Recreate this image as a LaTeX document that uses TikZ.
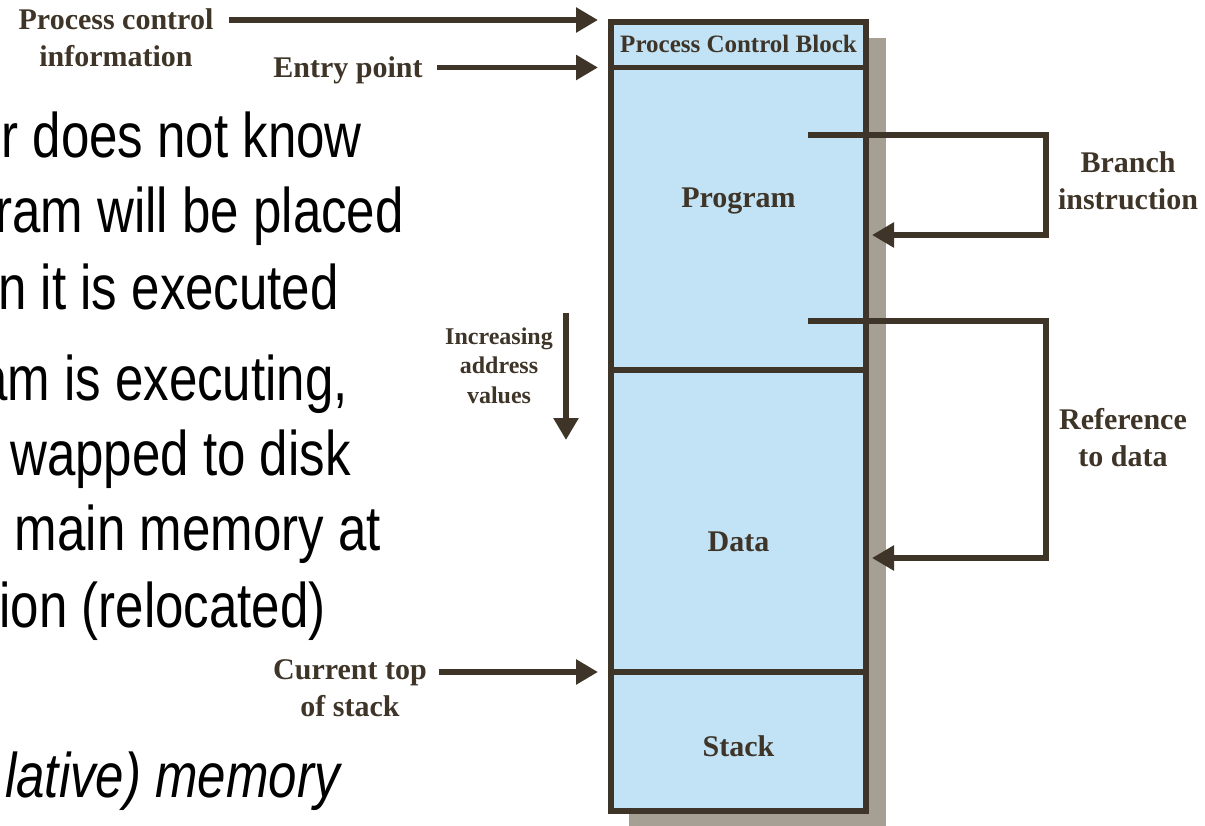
\documentclass[tikz,border=0pt]{standalone}
\usepackage{fontspec}
\setmainfont{Liberation Serif}
\newfontfamily\slidefont[FakeStretch=0.81]{Liberation Sans}
\usetikzlibrary{arrows.meta}
\definecolor{ink}{HTML}{3E3427}
\definecolor{memblue}{HTML}{C2E3F6}
\definecolor{shadowgray}{HTML}{A59F94}

\begin{document}
\begin{tikzpicture}[x=1pt,y=-1pt,
  region/.style={draw=ink, line width=5.5pt, fill=memblue, inner sep=0pt,
    outer sep=0pt, minimum width=255pt, anchor=north west},
  lbl/.style={text=ink, font=\bfseries\fontsize{30}{37}\selectfont,
    align=center, inner sep=0pt},
  small/.style={lbl, font=\bfseries\fontsize{24}{29.5}\selectfont},
  arr/.style={draw=ink, line width=5.5pt, miter limit=10,
    -{Triangle[length=22pt,width=24pt]}},
  slide/.style={font=\slidefont\fontsize{63}{75}\selectfont,
    anchor=base east, inner sep=0pt, text=black}
]
\useasboundingbox (0,0) rectangle (1205,826);
\clip (0,0) rectangle (1205,826);

% slide text running behind the figure
\node[slide] (s1) at (362,158) {r does not know};
\node[slide] (s2) at (404,233) {ram will be placed};
\node[slide] (s3) at (339,310) {n it is executed};
\node[slide] (s4) at (348,400) {am is executing,};
\node[slide] (s5) at (351,475) {wapped to disk};
\node[slide] (s6) at (381,550) {main memory at};
\node[slide] (s7) at (326,627) {ion (relocated)};
\node[slide, font=\slidefont\itshape\fontsize{63}{75}\selectfont] (s8) at (340,797) {lative) memory};

% process image: drop shadow, then the four regions
\fill[shadowgray] (629,38) rectangle (886,832);
\node[region, minimum height=45.5pt]  (pcb)   at (611,22)   {};
\node[region, minimum height=302.5pt] (prog)  at (611,67.5) {};
\node[region, minimum height=302pt]   (data)  at (611,370)  {};
\node[region, minimum height=139pt]   (stack) at (611,672)  {};

\node[lbl, anchor=base, font=\bfseries\fontsize{25}{30}\selectfont] (pcbtext) at (738.5,53) {Process Control Block};
\node[lbl, anchor=base] (progtext)  at (738.5,208) {Program};
\node[lbl, anchor=base] (datatext)  at (738.5,551) {Data};
\node[lbl, anchor=base] (stacktext) at (738.5,756) {Stack};

% labels on the left
\node[lbl] (pci)   at (116,37.5) {Process control\\information};
\node[lbl, anchor=base] (entry) at (348,78) {Entry point};
\node[lbl] (cur)   at (350,688) {Current top\\of stack};
\node[small] (inc) at (499,365.5) {Increasing\\address\\values};

% labels on the right
\node[lbl] (branch) at (1128,181) {Branch\\instruction};
\node[lbl] (ref)    at (1123,437.5) {Reference\\to data};

% arrows into the process image
\draw[arr] ([xshift=15pt]pci.east |- 0,20) -- ([xshift=-13pt,yshift=2pt]pcb.north west);
\draw[arr] ([xshift=14pt]entry.east |- pcb.south west) -- ([xshift=-13pt]pcb.south west);
\draw[arr] ([xshift=12pt]cur.east |- stack.north west) -- ([xshift=-13pt]stack.north west);

\coordinate (incfrom) at (566,313);
\coordinate (incto)   at (566,440);
\draw[arr] (incfrom) -- (incto);

% branch and data reference loops
\coordinate (brsrc) at (808,135);
\coordinate (brdst) at (872,235);
\draw[arr] (brsrc) -- (1046,135) |- (brdst);

\coordinate (refsrc) at (808,321);
\coordinate (refdst) at (872,558);
\draw[arr] (refsrc) -- (1046,321) |- (refdst);
\end{tikzpicture}
\end{document}
